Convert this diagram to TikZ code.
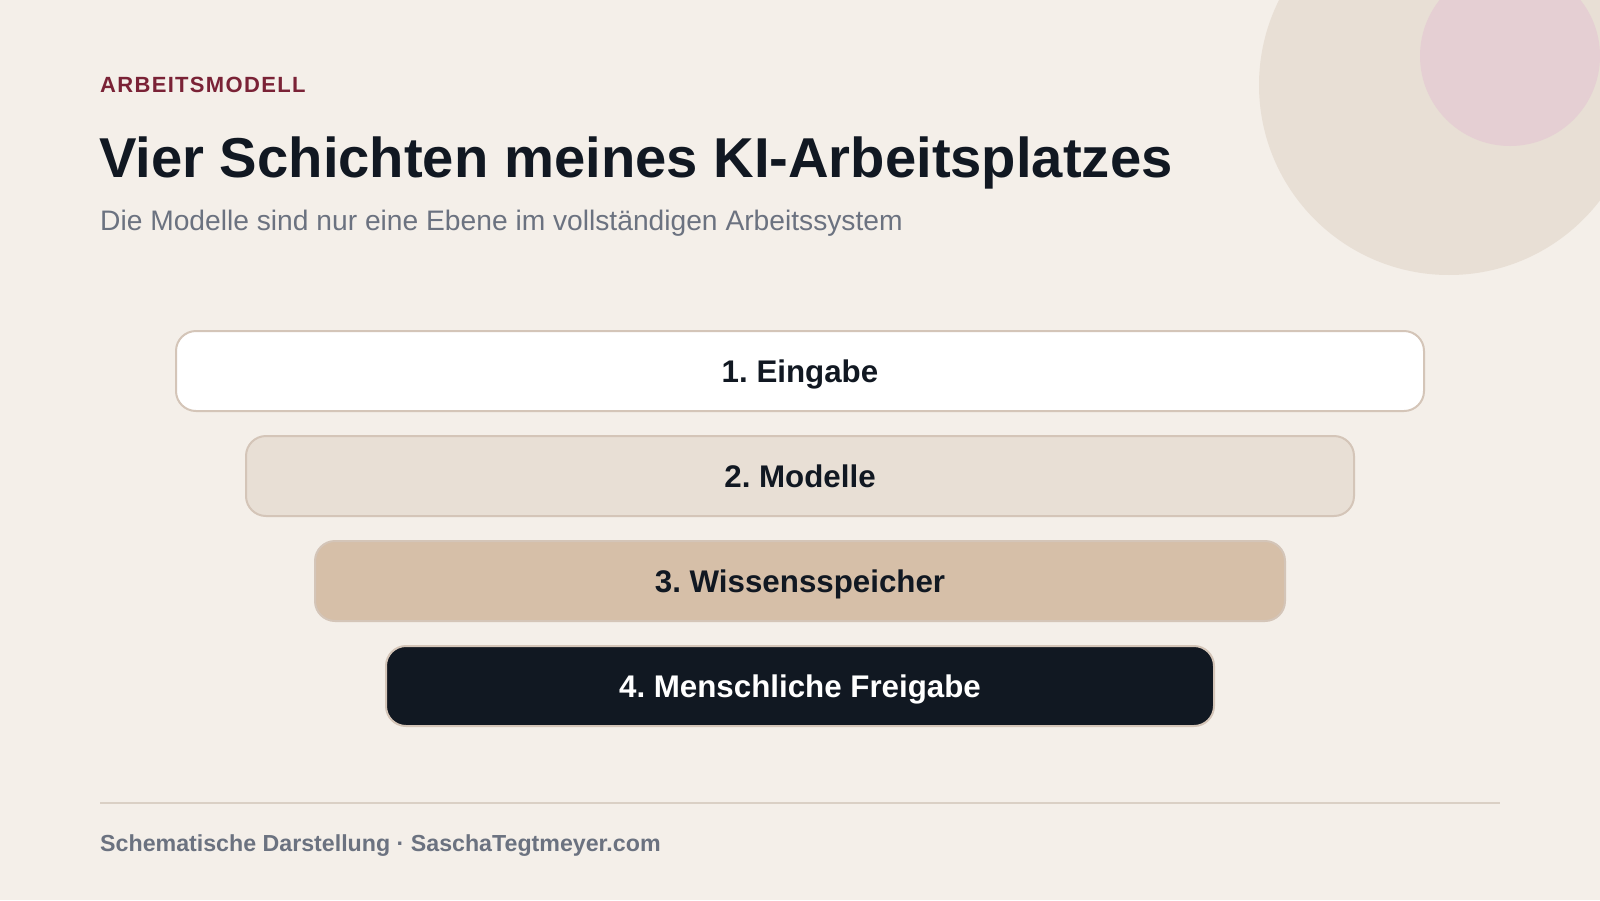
\documentclass[tikz,border=0pt]{standalone}
\usepackage{fontspec}
\setmainfont{Liberation Sans}
\frenchspacing
\definecolor{bg}{HTML}{F4EFE9}
\definecolor{beige}{HTML}{E8DFD5}
\definecolor{pinkc}{HTML}{E5CFD3}
\definecolor{maroon}{HTML}{7A2236}
\definecolor{ink}{HTML}{111822}
\definecolor{grayt}{HTML}{6B7280}
\definecolor{edge}{HTML}{D4C5B8}
\definecolor{tan}{HTML}{D6BFA8}
\definecolor{rulec}{HTML}{DAD0C5}
\begin{document}
\begin{tikzpicture}[x=1pt,y=-1pt,
  layer/.style={draw=edge, line width=2pt, rounded corners=20pt, minimum height=80pt, inner sep=0pt,
    text height=22.3pt, text depth=0pt,
    font=\fontsize{31.3}{36}\selectfont\bfseries, text=ink},
  txt/.style={anchor=base west, inner sep=0pt}]
\useasboundingbox (0,0) rectangle (1600,900);
\clip (0,0) rectangle (1600,900);
\fill[bg] (0,0) rectangle (1600,900);
\fill[beige] (1449,85) circle (190);
\fill[pinkc] (1510,56) circle (90);
\node[txt, text=maroon, font=\fontsize{22}{26}\selectfont\bfseries\addfontfeature{LetterSpace=6}] (kicker) at (100,92) {ARBEITSMODELL};
\node[txt, text=ink, font=\fontsize{56.2}{62}\selectfont\bfseries] (title) at (99,177) {Vier Schichten meines KI-Arbeitsplatzes};
\node[txt, text=grayt, font=\fontsize{28.2}{32}\selectfont] (sub) at (100,230) {Die Modelle sind nur eine Ebene im vollständigen Arbeitssystem};
\node[layer, fill=white, minimum width=1248pt] (l1) at (800,371) {1. Eingabe};
\node[layer, fill=beige, minimum width=1108pt] (l2) at (800,476) {2. Modelle};
\node[layer, fill=tan, minimum width=970pt] (l3) at (800,581) {3. Wissensspeicher};
\node[layer, fill=ink, text=white, minimum width=828pt] (l4) at (800,686) {4. Menschliche Freigabe};
\coordinate (r1) at (100,803);
\coordinate (r2) at (1500,803);
\draw[rulec, line width=2pt] (r1) -- (r2);
\node[txt, text=grayt, font=\fontsize{23.2}{27}\selectfont\bfseries] (foot) at (100,851) {Schematische Darstellung · SaschaTegtmeyer.com};
\end{tikzpicture}
\end{document}
